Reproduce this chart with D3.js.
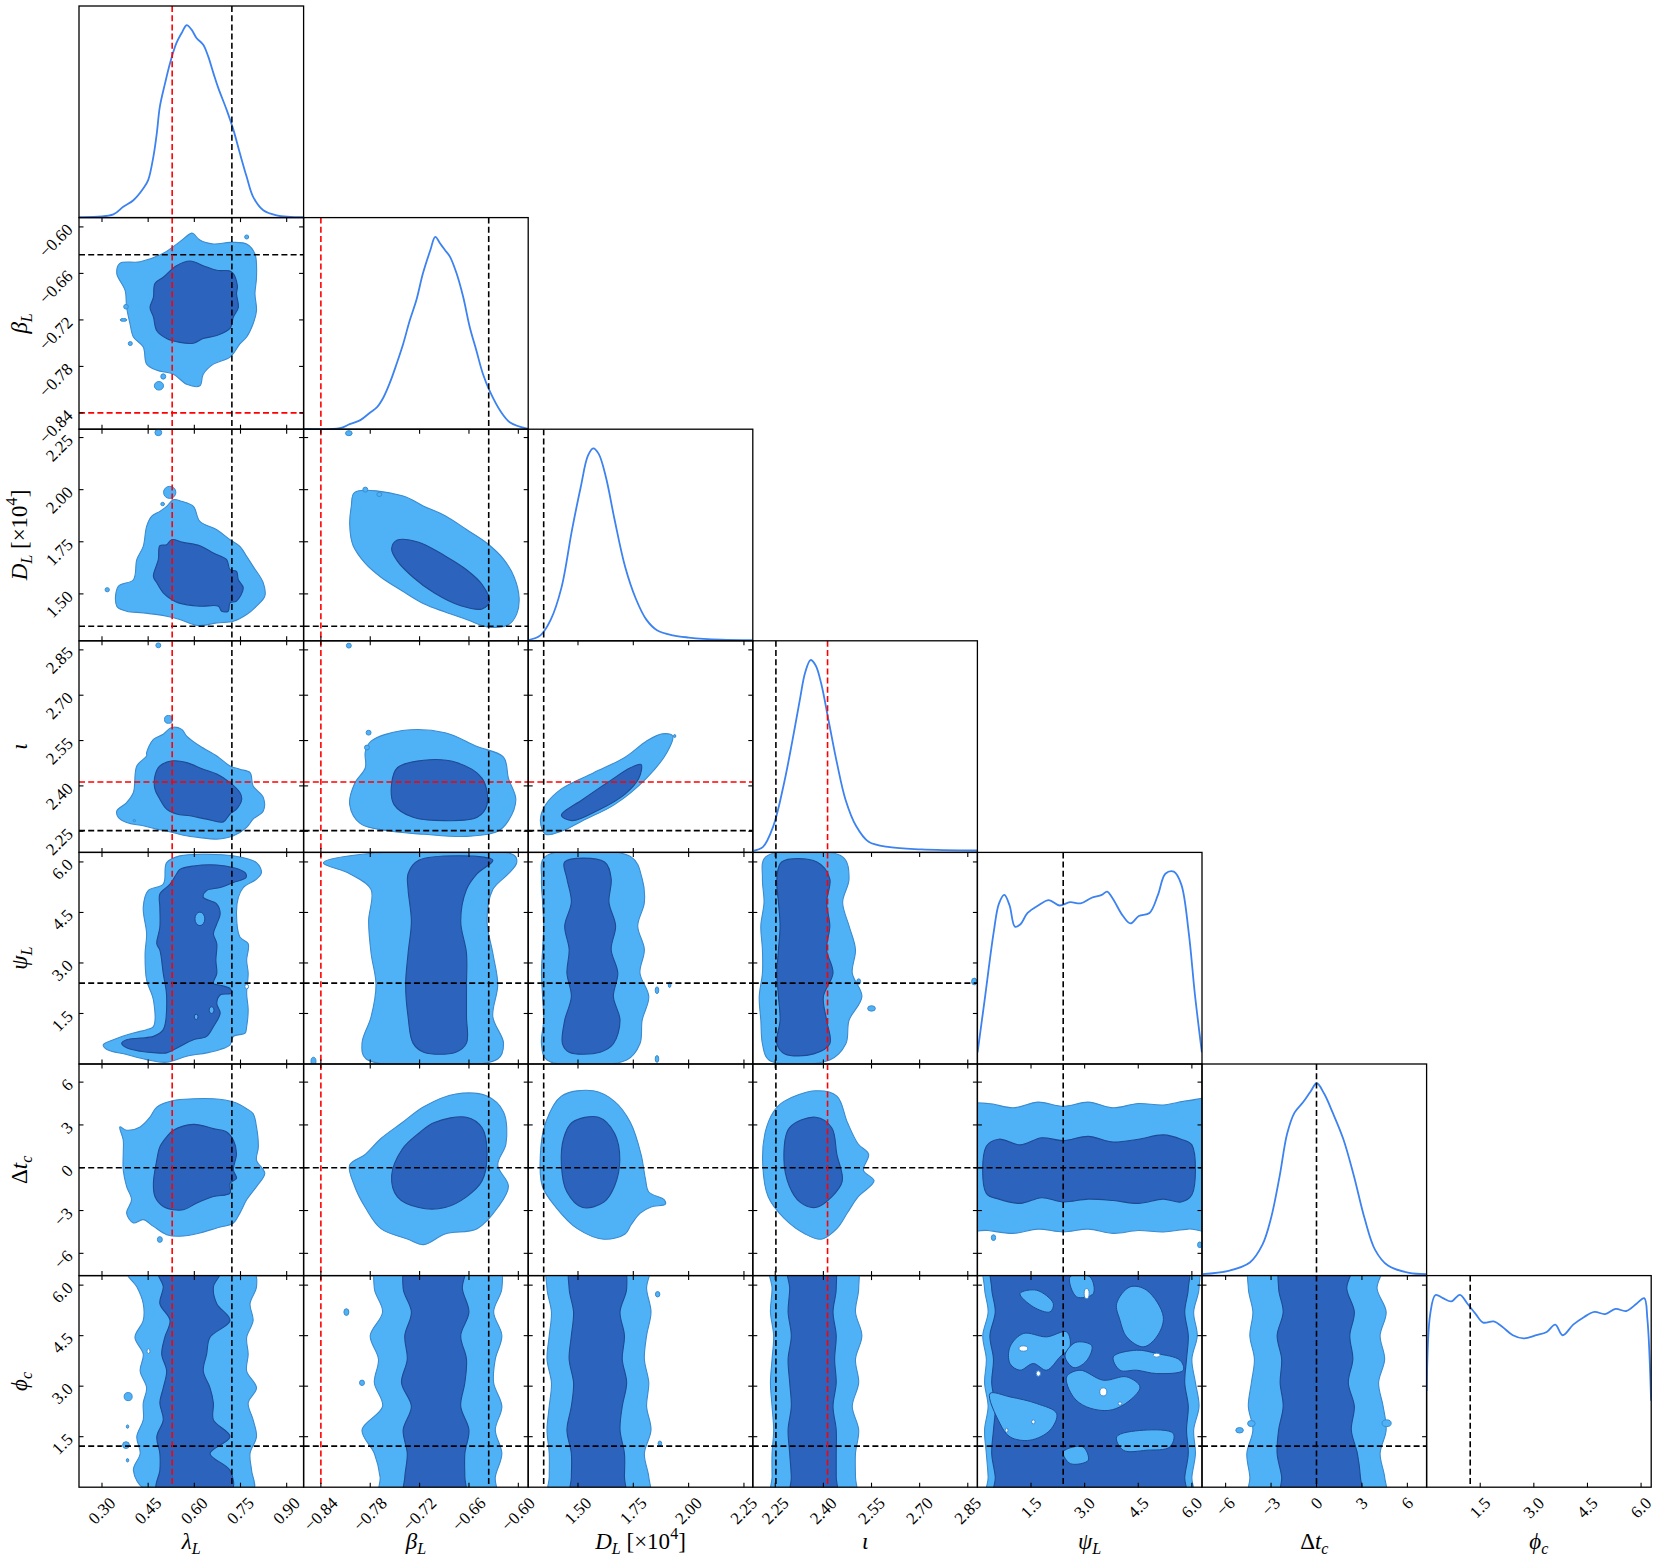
<!DOCTYPE html>
<html>
<head>
<meta charset="utf-8">
<script src="https://cdn.jsdelivr.net/npm/d3@7"></script>
<style>
  body { margin: 0; background: #fff; }
  svg { display: block; }
</style>
</head>
<body>
<script>
// ---- parameters, ranges, ticks ----
const ranges = [
  [0.2253, 0.955], [-0.861, -0.588], [1.275, 2.29], [2.18, 2.88],
  [0, 6.2832], [-7.56, 7.27], [0, 6.2832]
];
const tickValues = [
  [0.30, 0.45, 0.60, 0.75, 0.90], [-0.84, -0.78, -0.72, -0.66, -0.60],
  [1.50, 1.75, 2.00, 2.25], [2.25, 2.40, 2.55, 2.70, 2.85],
  [1.5, 3.0, 4.5, 6.0], [-6, -3, 0, 3, 6], [1.5, 3.0, 4.5, 6.0]
];
const tickLabels = [
  ["0.30", "0.45", "0.60", "0.75", "0.90"], ["−0.84", "−0.78", "−0.72", "−0.66", "−0.60"],
  ["1.50", "1.75", "2.00", "2.25"], ["2.25", "2.40", "2.55", "2.70", "2.85"],
  ["1.5", "3.0", "4.5", "6.0"], ["−6", "−3", "0", "3", "6"], ["1.5", "3.0", "4.5", "6.0"]
];
const axisLabels = [
  [["λ", "i"], ["L", "isub"]],
  [["β", "i"], ["L", "isub"]],
  [["D", "i"], ["L", "isub"], [" [×10", ""], ["4", "sup"], ["]", ""]],
  [["ι", "i"]],
  [["ψ", "i"], ["L", "isub"]],
  [["Δ", ""], ["t", "i"], ["c", "isub"]],
  [["ϕ", "i"], ["c", "isub"]]
];
const truthBlack = [0.722, -0.636, 1.345, 2.252, 2.40, 0.0, 1.22];
const truthRed = [0.528, -0.840, null, 2.413, null, null, null];

// ---- 1D marginals (x, relative density) ----
const kdeLambda = [[0.224,0.003],[0.337,0.017],[0.369,0.056],[0.402,0.090],[0.434,0.151],[0.450,0.195],[0.467,0.317],[0.478,0.438],[0.488,0.577],[0.505,0.699],[0.521,0.803],[0.542,0.908],[0.559,0.960],[0.575,1.0],[0.591,0.977],[0.607,0.934],[0.629,0.899],[0.645,0.838],[0.662,0.751],[0.678,0.673],[0.705,0.560],[0.727,0.456],[0.748,0.334],[0.770,0.212],[0.791,0.108],[0.824,0.038],[0.867,0.012],[0.955,0.002]];
const kdeBeta = [[-0.861,0.002],[-0.817,0.005],[-0.805,0.026],[-0.792,0.047],[-0.780,0.087],[-0.772,0.113],[-0.764,0.165],[-0.756,0.243],[-0.748,0.339],[-0.740,0.443],[-0.732,0.565],[-0.724,0.670],[-0.716,0.809],[-0.707,0.930],[-0.701,1.0],[-0.695,0.965],[-0.689,0.930],[-0.683,0.896],[-0.675,0.809],[-0.667,0.687],[-0.659,0.530],[-0.651,0.409],[-0.643,0.287],[-0.634,0.191],[-0.622,0.096],[-0.610,0.035],[-0.588,0.002]];
const kdeDL = [[1.276,0.004],[1.330,0.028],[1.377,0.110],[1.425,0.275],[1.473,0.577],[1.512,0.797],[1.545,0.962],[1.569,1.0],[1.593,0.973],[1.626,0.852],[1.665,0.632],[1.713,0.385],[1.761,0.220],[1.809,0.110],[1.857,0.055],[1.929,0.028],[2.001,0.017],[2.145,0.006],[2.29,0.003]];
const kdeIota = [[2.181,0.008],[2.211,0.027],[2.244,0.137],[2.277,0.357],[2.303,0.577],[2.327,0.797],[2.343,0.934],[2.360,1.0],[2.376,0.972],[2.393,0.879],[2.416,0.687],[2.442,0.467],[2.469,0.274],[2.502,0.137],[2.541,0.055],[2.607,0.027],[2.706,0.016],[2.879,0.010]];
const kdePsi = [[0.005,0.060],[0.219,0.356],[0.456,0.686],[0.605,0.835],[0.753,0.879],[0.901,0.824],[1.049,0.714],[1.197,0.725],[1.405,0.785],[1.701,0.824],[1.998,0.852],[2.294,0.824],[2.591,0.841],[2.887,0.835],[3.183,0.863],[3.480,0.879],[3.628,0.896],[3.776,0.863],[4.073,0.769],[4.280,0.731],[4.517,0.769],[4.814,0.785],[5.051,0.879],[5.258,0.989],[5.495,1.0],[5.703,0.934],[5.910,0.686],[6.088,0.356],[6.28,0.060]];
const kdeDt = [[-7.54,0.008],[-5.80,0.025],[-4.40,0.068],[-3.56,0.162],[-3.00,0.299],[-2.43,0.518],[-1.94,0.737],[-1.45,0.847],[-0.89,0.901],[-0.40,0.956],[0.02,1.0],[0.51,0.945],[1.07,0.847],[1.77,0.710],[2.47,0.518],[3.17,0.299],[3.87,0.134],[4.72,0.052],[6.12,0.014],[7.26,0.008]];
const kdePhi = [[0.004,0.500],[0.101,0.900],[0.249,0.999],[0.456,0.983],[0.694,0.966],[0.931,1.0],[1.138,0.955],[1.375,0.900],[1.583,0.856],[1.879,0.862],[2.116,0.834],[2.413,0.790],[2.709,0.774],[3.065,0.790],[3.361,0.807],[3.598,0.845],[3.806,0.790],[4.102,0.845],[4.398,0.884],[4.695,0.911],[4.991,0.900],[5.288,0.927],[5.584,0.916],[5.881,0.955],[6.088,0.983],[6.177,0.873],[6.280,0.450]];
const kdes = [kdeLambda, kdeBeta, kdeDL, kdeIota, kdePsi, kdeDt, kdePhi];

// ---- 2D credible regions, in data units: outer (light) and inner (dark) ----
const lamBeta = {
  outer: [[[0.591,-0.608],[0.553,-0.619],[0.499,-0.634],[0.424,-0.645],[0.358,-0.647],[0.348,-0.660],[0.375,-0.682],[0.380,-0.704],[0.391,-0.725],[0.402,-0.742],[0.434,-0.755],[0.445,-0.777],[0.478,-0.785],[0.532,-0.790],[0.575,-0.803],[0.618,-0.805],[0.629,-0.790],[0.662,-0.777],[0.716,-0.768],[0.748,-0.751],[0.770,-0.742],[0.791,-0.725],[0.802,-0.708],[0.797,-0.686],[0.802,-0.665],[0.797,-0.635],[0.770,-0.622],[0.716,-0.620],[0.662,-0.622],[0.618,-0.617],[0.598,-0.609]]],
  inner: [[[0.586,-0.644],[0.542,-0.650],[0.499,-0.665],[0.472,-0.673],[0.467,-0.691],[0.456,-0.704],[0.467,-0.716],[0.478,-0.734],[0.510,-0.744],[0.553,-0.749],[0.597,-0.750],[0.629,-0.744],[0.673,-0.740],[0.716,-0.731],[0.727,-0.716],[0.743,-0.704],[0.737,-0.686],[0.740,-0.676],[0.721,-0.658],[0.673,-0.656],[0.629,-0.650]]],
  islands: [[0.770,-0.613,0.0065,0.0026],[0.378,-0.703,0.0075,0.003],[0.370,-0.720,0.011,0.0018],[0.392,-0.7505,0.0065,0.0026],[0.499,-0.793,0.008,0.0034],[0.485,-0.805,0.015,0.0055]]
};
const lamDL = {
  outer: [[[0.532,1.952],[0.559,1.944],[0.597,1.920],[0.618,1.848],[0.673,1.808],[0.716,1.760],[0.748,1.728],[0.770,1.680],[0.791,1.632],[0.824,1.553],[0.829,1.489],[0.802,1.441],[0.770,1.401],[0.727,1.369],[0.673,1.361],[0.613,1.348],[0.553,1.377],[0.510,1.393],[0.434,1.409],[0.380,1.417],[0.348,1.441],[0.353,1.536],[0.402,1.568],[0.413,1.664],[0.434,1.728],[0.445,1.824],[0.461,1.872],[0.488,1.896],[0.510,1.920]]],
  inner: [[[0.526,1.760],[0.564,1.747],[0.618,1.731],[0.662,1.696],[0.705,1.664],[0.716,1.616],[0.737,1.608],[0.743,1.568],[0.759,1.529],[0.737,1.465],[0.716,1.457],[0.710,1.417],[0.689,1.417],[0.678,1.441],[0.618,1.441],[0.548,1.457],[0.526,1.473],[0.499,1.505],[0.478,1.553],[0.467,1.584],[0.483,1.664],[0.488,1.731],[0.510,1.736]]],
  islands: [[0.520,1.987,0.02,0.029],[0.483,2.274,0.011,0.015],[0.317,1.52,0.007,0.01],[0.497,1.931,0.006,0.008]]
};
const lamIota = {
  outer: [[[0.526,2.593],[0.559,2.587],[0.575,2.565],[0.618,2.532],[0.673,2.499],[0.716,2.466],[0.748,2.455],[0.781,2.444],[0.791,2.400],[0.824,2.362],[0.824,2.317],[0.791,2.290],[0.770,2.263],[0.727,2.235],[0.673,2.224],[0.618,2.229],[0.564,2.237],[0.510,2.251],[0.478,2.257],[0.434,2.268],[0.380,2.279],[0.353,2.296],[0.348,2.317],[0.380,2.345],[0.402,2.378],[0.413,2.466],[0.445,2.499],[0.445,2.510],[0.467,2.554],[0.499,2.571]]],
  inner: [[[0.532,2.483],[0.575,2.477],[0.629,2.455],[0.673,2.439],[0.716,2.411],[0.748,2.378],[0.754,2.356],[0.737,2.323],[0.716,2.307],[0.694,2.281],[0.640,2.290],[0.586,2.301],[0.542,2.307],[0.510,2.323],[0.488,2.356],[0.472,2.389],[0.472,2.433],[0.488,2.466]]],
  islands: [[0.516,2.620,0.013,0.013],[0.483,2.865,0.008,0.008],[0.405,2.285,0.004,0.004]]
};
const lamPsi = {
  outer: [[[0.510,5.98],[0.553,6.18],[0.640,6.23],[0.727,6.18],[0.802,5.98],[0.818,5.68],[0.802,5.49],[0.759,5.24],[0.743,4.95],[0.737,4.46],[0.748,3.77],[0.775,3.57],[0.770,3.08],[0.775,2.69],[0.770,2.10],[0.775,1.61],[0.770,1.11],[0.765,0.92],[0.727,0.82],[0.716,0.57],[0.684,0.43],[0.640,0.33],[0.575,0.23],[0.510,0.05],[0.445,0.13],[0.380,0.28],[0.316,0.43],[0.304,0.57],[0.337,0.72],[0.402,0.92],[0.445,1.02],[0.467,1.11],[0.467,1.90],[0.445,2.49],[0.440,3.28],[0.445,3.87],[0.434,4.65],[0.450,5.15],[0.499,5.34]]],
  inner: [[[0.553,5.78],[0.597,5.88],[0.673,5.91],[0.727,5.83],[0.765,5.68],[0.768,5.54],[0.727,5.39],[0.684,5.24],[0.640,5.15],[0.629,4.95],[0.673,4.75],[0.684,4.46],[0.673,4.16],[0.662,3.87],[0.673,3.57],[0.670,3.08],[0.673,2.69],[0.662,2.39],[0.684,2.34],[0.716,2.24],[0.721,2.10],[0.684,2.05],[0.673,1.80],[0.684,1.51],[0.662,1.11],[0.640,0.82],[0.597,0.72],[0.553,0.52],[0.510,0.33],[0.478,0.33],[0.424,0.38],[0.380,0.48],[0.364,0.62],[0.380,0.72],[0.424,0.77],[0.467,0.82],[0.499,1.02],[0.510,2.00],[0.499,2.69],[0.488,3.38],[0.478,3.57],[0.488,4.06],[0.488,4.65],[0.488,5.05],[0.521,5.34],[0.542,5.64]]],
  holes: [[0.618,4.31,0.016,0.2],[0.656,1.60,0.008,0.1],[0.606,1.40,0.006,0.08]],
  white: [[0.770,2.30,0.006,0.07]]
};
const lamDt = {
  outer: [[[0.532,4.71],[0.597,4.83],[0.662,4.83],[0.727,4.60],[0.770,4.14],[0.791,3.79],[0.802,2.86],[0.808,1.46],[0.802,0.54],[0.829,-0.39],[0.802,-1.32],[0.770,-2.25],[0.748,-3.18],[0.727,-3.87],[0.673,-4.22],[0.618,-4.57],[0.553,-4.80],[0.510,-4.69],[0.467,-4.11],[0.434,-3.64],[0.402,-3.87],[0.380,-3.18],[0.396,-2.25],[0.380,-1.32],[0.369,-0.16],[0.369,1.0],[0.369,1.93],[0.358,2.86],[0.380,2.63],[0.424,2.86],[0.456,3.55],[0.478,4.25]]],
  inner: [[[0.532,2.63],[0.597,3.04],[0.662,2.74],[0.705,2.51],[0.727,1.93],[0.737,1.0],[0.727,-0.16],[0.737,-0.74],[0.716,-1.09],[0.716,-1.78],[0.662,-2.02],[0.608,-2.48],[0.564,-2.95],[0.532,-2.95],[0.499,-2.72],[0.472,-2.02],[0.467,-1.09],[0.478,0.54],[0.488,1.46],[0.510,2.16]]],
  islands: [[0.488,-5.03,0.008,0.2]]
};
const lamPhi = {
  levels: [6.4, 5.95, 5.45, 4.95, 4.45, 3.95, 3.45, 2.95, 2.5, 2.0, 1.5, 1.0, 0.5, -0.1],
  outerL: [0.380, 0.413, 0.434, 0.434, 0.407, 0.434, 0.424, 0.445, 0.434, 0.434, 0.413, 0.424, 0.402, 0.445],
  outerR: [0.791, 0.802, 0.781, 0.791, 0.770, 0.775, 0.770, 0.802, 0.775, 0.791, 0.802, 0.781, 0.786, 0.791],
  innerL: [0.483, 0.499, 0.488, 0.521, 0.504, 0.494, 0.510, 0.499, 0.488, 0.499, 0.478, 0.488, 0.488, 0.478],
  innerR: [0.684, 0.662, 0.673, 0.716, 0.651, 0.640, 0.629, 0.651, 0.662, 0.662, 0.716, 0.651, 0.716, 0.721],
  islands: [[0.385,2.69,0.013,0.12],[0.383,1.80,0.004,0.05],[0.378,1.25,0.011,0.1],[0.383,0.80,0.004,0.05]],
  white: [[0.451,4.04,0.005,0.07]]
};
const betaDL = {
  outer: [[[-0.799,1.987],[-0.741,1.971],[-0.715,1.921],[-0.689,1.875],[-0.663,1.809],[-0.638,1.743],[-0.618,1.667],[-0.605,1.580],[-0.599,1.479],[-0.602,1.403],[-0.612,1.352],[-0.638,1.342],[-0.663,1.377],[-0.689,1.413],[-0.715,1.453],[-0.741,1.514],[-0.767,1.580],[-0.786,1.646],[-0.801,1.733],[-0.805,1.834],[-0.803,1.921]]],
  inner: [[[-0.747,1.758],[-0.721,1.748],[-0.689,1.682],[-0.663,1.616],[-0.644,1.545],[-0.635,1.464],[-0.644,1.428],[-0.670,1.443],[-0.702,1.504],[-0.728,1.580],[-0.747,1.657],[-0.754,1.718]]],
  islands: [[-0.786,2.0,0.003,0.012],[-0.769,1.977,0.003,0.01],[-0.806,2.271,0.004,0.012]]
};
const betaIota = {
  outer: [[[-0.779,2.548],[-0.741,2.583],[-0.689,2.576],[-0.650,2.530],[-0.618,2.495],[-0.612,2.425],[-0.603,2.355],[-0.612,2.285],[-0.625,2.250],[-0.663,2.233],[-0.715,2.240],[-0.754,2.250],[-0.792,2.275],[-0.805,2.338],[-0.799,2.408],[-0.786,2.460],[-0.786,2.513]]],
  inner: [[[-0.747,2.460],[-0.715,2.485],[-0.676,2.478],[-0.644,2.425],[-0.638,2.338],[-0.650,2.296],[-0.689,2.285],[-0.728,2.296],[-0.751,2.338],[-0.754,2.408]]],
  islands: [[-0.806,2.864,0.003,0.008],[-0.782,2.576,0.003,0.008],[-0.784,2.527,0.003,0.008]]
};
const betaPsi = {
  levels: [6.2, 5.97, 5.65, 5.18, 4.24, 3.29, 2.35, 1.40, 0.62, 0.15],
  outerL: [-0.80, -0.837, -0.805, -0.779, -0.782, -0.779, -0.773, -0.779, -0.790, -0.785],
  outerR: [-0.605, -0.602, -0.612, -0.631, -0.638, -0.631, -0.625, -0.631, -0.618, -0.625],
  innerLevels: [6.05, 5.65, 5.18, 4.24, 3.29, 2.35, 1.40, 0.62, 0.35],
  innerL: [-0.721, -0.734, -0.734, -0.730, -0.734, -0.737, -0.734, -0.728, -0.715],
  innerR: [-0.631, -0.650, -0.663, -0.670, -0.663, -0.663, -0.663, -0.663, -0.676],
  islands: [[-0.849,0.08,0.003,0.12]]
};
const betaDt = {
  outer: [[[-0.715,4.28],[-0.676,5.17],[-0.638,5.02],[-0.618,3.91],[-0.615,1.68],[-0.625,0.19],[-0.612,-1.30],[-0.625,-2.79],[-0.650,-4.27],[-0.689,-4.64],[-0.715,-5.39],[-0.734,-5.01],[-0.767,-4.27],[-0.786,-2.79],[-0.799,-1.30],[-0.805,0.19],[-0.786,0.94],[-0.767,2.05],[-0.741,3.17]]],
  inner: [[[-0.702,3.17],[-0.663,3.54],[-0.644,2.80],[-0.638,0.94],[-0.644,-0.92],[-0.663,-2.04],[-0.689,-2.79],[-0.721,-2.79],[-0.747,-2.04],[-0.754,-0.55],[-0.741,1.31],[-0.721,2.42]]]
};
const betaPhi = {
  levels: [6.6, 5.9, 5.2, 4.5, 3.8, 3.1, 2.4, 1.7, 1.0, 0.3, -0.3],
  outerL: [-0.77, -0.775, -0.765, -0.78, -0.77, -0.775, -0.765, -0.79, -0.775, -0.768, -0.768],
  outerR: [-0.625, -0.62, -0.63, -0.62, -0.628, -0.63, -0.62, -0.628, -0.62, -0.628, -0.628],
  innerL: [-0.735, -0.74, -0.73, -0.738, -0.735, -0.742, -0.73, -0.74, -0.735, -0.738, -0.738],
  innerR: [-0.665, -0.668, -0.66, -0.67, -0.663, -0.665, -0.67, -0.66, -0.665, -0.665, -0.665],
  islands: [[-0.809,5.20,0.003,0.1],[-0.790,3.10,0.003,0.08]]
};
const dlIota = {
  outer: [[[1.354,2.338],[1.425,2.390],[1.569,2.443],[1.713,2.495],[1.809,2.548],[1.880,2.572],[1.928,2.565],[1.904,2.513],[1.809,2.425],[1.665,2.338],[1.521,2.285],[1.425,2.250],[1.354,2.240],[1.330,2.285]]],
  inner: [[[1.425,2.303],[1.521,2.355],[1.641,2.415],[1.737,2.460],[1.785,2.471],[1.775,2.425],[1.713,2.373],[1.593,2.320],[1.473,2.285]]],
  islands: [[1.937,2.565,0.005,0.005]]
};
const dlPsi = {
  levels: [6.15, 5.5, 4.8, 4.1, 3.4, 2.7, 2.0, 1.3, 0.6, 0.12],
  outerL: [1.35, 1.335, 1.34, 1.345, 1.34, 1.335, 1.34, 1.345, 1.335, 1.36],
  outerR: [1.74, 1.79, 1.80, 1.77, 1.80, 1.78, 1.82, 1.79, 1.78, 1.72],
  innerLevels: [6.0, 5.5, 4.8, 4.1, 3.4, 2.7, 2.0, 1.3, 0.6, 0.35],
  innerL: [1.44, 1.45, 1.47, 1.44, 1.46, 1.45, 1.47, 1.44, 1.43, 1.46],
  innerR: [1.62, 1.65, 1.64, 1.67, 1.65, 1.68, 1.66, 1.69, 1.66, 1.60],
  islands: [[1.857,2.19,0.008,0.1],[1.914,2.35,0.006,0.08],[1.857,0.15,0.008,0.1]]
};
const dlDt = {
  outer: [[[1.425,5.02],[1.569,5.39],[1.665,4.65],[1.737,3.17],[1.785,0.94],[1.805,-0.8],[1.82,-1.7],[1.89,-2.25],[1.895,-2.55],[1.83,-2.75],[1.78,-3.2],[1.74,-4.0],[1.713,-4.64],[1.617,-5.01],[1.497,-4.27],[1.401,-2.79],[1.339,-1.30],[1.330,0.94],[1.354,3.17]]],
  inner: [[[1.473,3.17],[1.593,3.54],[1.665,2.42],[1.689,0.57],[1.665,-1.30],[1.617,-2.41],[1.521,-2.79],[1.449,-1.67],[1.425,0.19],[1.435,2.05]]]
};
const dlPhi = {
  levels: [6.6, 5.9, 5.2, 4.5, 3.8, 3.1, 2.4, 1.7, 1.0, 0.3, -0.3],
  outerL: [1.37, 1.36, 1.38, 1.37, 1.36, 1.38, 1.37, 1.36, 1.37, 1.37, 1.37],
  outerR: [1.82, 1.81, 1.83, 1.81, 1.80, 1.82, 1.81, 1.83, 1.80, 1.82, 1.82],
  innerL: [1.47, 1.46, 1.48, 1.47, 1.46, 1.48, 1.47, 1.45, 1.47, 1.47, 1.47],
  innerR: [1.70, 1.72, 1.69, 1.71, 1.70, 1.72, 1.70, 1.69, 1.71, 1.71, 1.71],
  islands: [[1.86,5.73,0.01,0.08],[1.87,1.30,0.008,0.07]]
};
const iotaPsi = {
  levels: [6.15, 5.5, 4.8, 4.1, 3.4, 2.7, 2.0, 1.3, 0.6, 0.12],
  outerL: [2.22, 2.21, 2.215, 2.205, 2.21, 2.21, 2.20, 2.205, 2.21, 2.23],
  outerR: [2.46, 2.48, 2.46, 2.48, 2.50, 2.49, 2.52, 2.48, 2.47, 2.42],
  innerLevels: [6.0, 5.5, 4.8, 4.1, 3.4, 2.7, 2.0, 1.3, 0.6, 0.3],
  innerL: [2.27, 2.255, 2.26, 2.265, 2.26, 2.255, 2.26, 2.265, 2.255, 2.28],
  innerR: [2.38, 2.42, 2.41, 2.42, 2.41, 2.43, 2.40, 2.41, 2.42, 2.37],
  islands: [[2.51,2.45,0.006,0.08],[2.55,1.65,0.012,0.08],[2.87,2.45,0.008,0.1]]
};
const iotaDt = {
  outer: [[[2.277,4.65],[2.376,5.39],[2.442,5.02],[2.475,3.17],[2.508,1.68],[2.541,0.94],[2.525,-0.18],[2.558,-0.92],[2.508,-2.04],[2.475,-3.16],[2.442,-4.27],[2.393,-5.01],[2.343,-4.64],[2.277,-3.53],[2.228,-2.04],[2.211,0.19],[2.218,2.42],[2.244,3.91]]],
  inner: [[[2.294,2.80],[2.376,3.54],[2.426,2.80],[2.442,0.94],[2.459,-0.92],[2.426,-2.04],[2.376,-2.79],[2.327,-2.41],[2.294,-1.30],[2.277,0.57]]]
};
const iotaPhi = {
  levels: [6.6, 5.9, 5.2, 4.5, 3.8, 3.1, 2.4, 1.7, 1.0, 0.3, -0.3],
  outerL: [2.235, 2.24, 2.235, 2.245, 2.24, 2.235, 2.24, 2.245, 2.24, 2.24, 2.24],
  outerR: [2.50, 2.51, 2.50, 2.52, 2.50, 2.51, 2.49, 2.51, 2.50, 2.50, 2.50],
  innerL: [2.29, 2.295, 2.29, 2.30, 2.29, 2.295, 2.30, 2.29, 2.295, 2.30, 2.30],
  innerR: [2.43, 2.44, 2.43, 2.44, 2.435, 2.44, 2.43, 2.44, 2.44, 2.44, 2.44]
};
const psiDt = {
  hlevels: [-0.3, 0.3, 1.0, 1.7, 2.4, 3.1, 3.8, 4.5, 5.2, 5.9, 6.6],
  outerT: [4.3, 4.5, 4.2, 4.6, 4.3, 4.6, 4.2, 4.5, 4.4, 4.7, 4.7],
  outerB: [-4.2, -4.4, -4.6, -4.3, -4.5, -4.3, -4.6, -4.4, -4.5, -4.3, -4.3],
  innerLevels: [0.25, 0.6, 1.2, 1.8, 2.4, 3.1, 3.8, 4.5, 5.2, 5.7, 6.0],
  innerT: [1.5, 2.0, 1.6, 2.1, 1.9, 2.2, 1.8, 2.0, 2.3, 2.0, 1.6],
  innerB: [-1.8, -2.2, -2.5, -2.1, -2.4, -2.2, -2.3, -2.5, -2.2, -2.4, -1.9],
  islands: [[0.45,-4.9,0.06,0.2],[6.22,-5.4,0.06,0.2]]
};
const psiPhi = {
  levels: [6.6, 5.9, 5.2, 4.5, 3.8, 3.1, 2.4, 1.7, 1.0, 0.3, -0.3],
  outerL: [0.25, 0.2, 0.3, 0.15, 0.25, 0.2, 0.3, 0.2, 0.25, 0.3, 0.3],
  outerR: [6.1, 6.2, 6.05, 6.15, 6.0, 6.1, 6.2, 6.05, 6.1, 6.0, 6.0],
  innerL: [0.45, 0.4, 0.5, 0.35, 0.45, 0.4, 0.5, 0.45, 0.4, 0.5, 0.5],
  innerR: [5.85, 5.9, 5.8, 5.9, 5.85, 5.8, 5.9, 5.85, 5.9, 5.8, 5.8],
  lightPolys: [
    [[0.912,4.167],[1.285,4.563],[1.937,4.464],[2.497,4.612],[2.590,4.167],[2.310,3.870],[1.937,3.474],[1.565,3.672],[1.191,3.474],[0.912,3.672]],
    [[2.497,3.276],[2.870,3.474],[3.522,3.177],[4.175,3.276],[4.548,2.979],[4.268,2.583],[3.709,2.286],[3.056,2.385],[2.683,2.682]],
    [[3.802,3.870],[4.455,4.068],[5.014,3.969],[5.667,3.771],[5.760,3.474],[5.014,3.375],[4.455,3.474],[3.989,3.474]],
    [[0.352,2.781],[0.912,2.682],[1.658,2.484],[2.217,2.187],[2.031,1.692],[1.471,1.395],[0.912,1.494],[0.632,1.890]],
    [[3.896,5.453],[4.268,5.948],[4.735,5.849],[5.201,5.058],[5.014,4.464],[4.641,4.167],[4.175,4.464],[3.989,4.959]],
    [[1.191,5.750],[1.658,5.849],[2.124,5.453],[2.031,5.206],[1.565,5.354]],
    [[2.590,6.245],[3.149,6.245],[3.243,5.750],[2.776,5.651]],
    [[3.896,1.494],[4.641,1.692],[5.481,1.593],[5.387,1.197],[4.735,1.098],[4.082,1.098]],
    [[2.45,3.90],[2.75,4.30],[3.20,4.20],[3.05,3.75],[2.70,3.55]],
    [[2.40,1.05],[2.95,1.20],[3.10,0.80],[2.60,0.70]]
  ],
  white: [[1.285,4.118,0.12,0.08],[3.522,2.830,0.1,0.12],[5.014,3.920,0.1,0.06],[3.056,5.750,0.07,0.15],[1.705,3.375,0.06,0.08],[1.565,1.940,0.05,0.06],[0.818,1.692,0.04,0.06],[3.989,2.484,0.05,0.05]]
};
const dtPhi = {
  levels: [6.6, 5.9, 5.2, 4.5, 3.8, 3.1, 2.4, 1.7, 1.0, 0.3, -0.3],
  outerL: [-4.3, -4.5, -4.2, -4.4, -4.1, -4.3, -4.5, -4.2, -4.6, -4.4, -4.4],
  outerR: [4.3, 4.0, 4.6, 4.2, 4.5, 4.1, 4.4, 4.6, 4.2, 4.5, 4.5],
  innerL: [-2.3, -2.5, -2.2, -2.6, -2.3, -2.4, -2.2, -2.5, -2.6, -2.3, -2.3],
  innerR: [2.3, 2.0, 2.5, 2.2, 2.4, 2.1, 2.5, 2.3, 2.7, 2.9, 2.9],
  islands: [[-5.08,1.69,0.25,0.08],[-4.30,1.89,0.25,0.09],[4.63,1.90,0.3,0.1]]
};
const panels2d = {
  "1,0": lamBeta, "2,0": lamDL, "3,0": lamIota, "4,0": lamPsi, "5,0": lamDt, "6,0": lamPhi,
  "2,1": betaDL, "3,1": betaIota, "4,1": betaPsi, "5,1": betaDt, "6,1": betaPhi,
  "3,2": dlIota, "4,2": dlPsi, "5,2": dlDt, "6,2": dlPhi,
  "4,3": iotaPsi, "5,3": iotaDt, "6,3": iotaPhi,
  "5,4": psiDt, "6,4": psiPhi,
  "6,5": dtPhi
};

// ---- layout & style ----
const width = 1661, height = 1566;
const X0 = 79, Y0 = 6, PW = 224.6, PH = 211.6, N = 7;
const lightFill = "#4fb2f6", lightEdge = "#3b8bd0";
const darkFill = "#2c63bd", darkEdge = "#1e4a92";
const kdeColor = "#3c82f0";
const tickSize = 17, labelSize = 23;

const svg = d3.select("body").append("svg")
  .attr("width", width).attr("height", height)
  .attr("viewBox", [0, 0, width, height])
  .attr("font-family", "'Liberation Serif', 'DejaVu Serif', serif");

function mathText(sel, parts, size) {
  const t = sel.append("text").attr("font-size", size);
  let shift = 0;
  for (const [s, k] of parts) {
    const target = k.includes("sub") ? size * 0.22 : k.includes("sup") ? -size * 0.42 : 0;
    const ts = t.append("tspan").text(s).attr("dy", target - shift);
    shift = target;
    if (k.includes("sub") || k.includes("sup")) ts.attr("font-size", size * 0.7);
    if (k.includes("i")) ts.attr("font-style", "italic");
  }
  return t;
}

function vband(levels, L, R) {
  return levels.map((l, i) => [L[i], l]).concat(levels.map((l, i) => [R[i], l]).reverse());
}
function hband(levels, T, B) {
  return levels.map((l, i) => [l, T[i]]).concat(levels.map((l, i) => [l, B[i]]).reverse());
}

let clipId = 0;
for (let r = 0; r < N; r++) {
  for (let c = 0; c <= r; c++) {
    const g = svg.append("g").attr("transform", `translate(${X0 + c * PW},${Y0 + r * PH})`);
    const x = d3.scaleLinear().domain(ranges[c]).range([0, PW]);
    const id = `clip-${clipId++}`;
    g.append("clipPath").attr("id", id).append("rect").attr("width", PW).attr("height", PH);
    const body = g.append("g").attr("clip-path", `url(#${id})`);

    if (r === c) {
      const y = d3.scaleLinear().domain([0, 1.1]).range([PH, 0]);
      body.append("path")
        .datum(kdes[c])
        .attr("fill", "none").attr("stroke", kdeColor).attr("stroke-width", 1.8)
        .attr("d", d3.line().x(d => x(d[0])).y(d => y(d[1])).curve(d3.curveCatmullRom.alpha(0.5)));
    } else {
      const y = d3.scaleLinear().domain(ranges[r]).range([PH, 0]);
      const p = panels2d[`${r},${c}`];
      const line = d3.line().x(d => x(d[0])).y(d => y(d[1])).curve(d3.curveCatmullRomClosed.alpha(0.5));
      let outer = p.outer || [], inner = p.inner || [];
      if (p.levels) {
        outer = [vband(p.levels, p.outerL, p.outerR)];
        inner = [vband(p.innerLevels || p.levels, p.innerL, p.innerR)];
      }
      if (p.hlevels) {
        outer = [hband(p.hlevels, p.outerT, p.outerB)];
        inner = [hband(p.innerLevels, p.innerT, p.innerB)];
      }
      const blob = (sel, list, fill, stroke) => sel.selectAll(null).data(list || []).join("ellipse")
        .attr("cx", d => x(d[0])).attr("cy", d => y(d[1]))
        .attr("rx", d => Math.abs(x(d[0] + d[2]) - x(d[0])))
        .attr("ry", d => Math.abs(y(d[1] + d[3]) - y(d[1])))
        .attr("fill", fill).attr("stroke", stroke).attr("stroke-width", 1);

      body.selectAll(null).data(outer).join("path")
        .attr("d", line).attr("fill", lightFill).attr("stroke", lightEdge).attr("stroke-width", 1.1);
      blob(body, p.islands, lightFill, lightEdge);
      body.selectAll(null).data(inner).join("path")
        .attr("d", line).attr("fill", darkFill).attr("stroke", darkEdge).attr("stroke-width", 1.1);
      body.selectAll(null).data(p.lightPolys || []).join("path")
        .attr("d", line).attr("fill", lightFill).attr("stroke", darkEdge).attr("stroke-width", 1);
      blob(body, p.holes, lightFill, darkEdge);
      blob(body, p.white, "#fff", lightEdge);

      // horizontal reference lines for this row
      if (truthBlack[r] != null) body.append("line")
        .attr("x1", 0).attr("x2", PW).attr("y1", y(truthBlack[r])).attr("y2", y(truthBlack[r]))
        .attr("stroke", "#000").attr("stroke-width", 1.6).attr("stroke-dasharray", "6,3.2");
      if (truthRed[r] != null) body.append("line")
        .attr("x1", 0).attr("x2", PW).attr("y1", y(truthRed[r])).attr("y2", y(truthRed[r]))
        .attr("stroke", "#f00").attr("stroke-width", 1.6).attr("stroke-dasharray", "6,3.2");
    }

    // vertical reference lines for this column
    if (truthBlack[c] != null) body.append("line")
      .attr("x1", x(truthBlack[c])).attr("x2", x(truthBlack[c])).attr("y1", 0).attr("y2", PH)
      .attr("stroke", "#000").attr("stroke-width", 1.6).attr("stroke-dasharray", "6,3.2");
    if (truthRed[c] != null) body.append("line")
      .attr("x1", x(truthRed[c])).attr("x2", x(truthRed[c])).attr("y1", 0).attr("y2", PH)
      .attr("stroke", "#f00").attr("stroke-width", 1.6).attr("stroke-dasharray", "6,3.2");

    // frame
    g.append("rect").attr("width", PW).attr("height", PH)
      .attr("fill", "none").attr("stroke", "#000").attr("stroke-width", 1.3);

    // ticks (inward)
    const tk = g.append("g").attr("stroke", "#000").attr("stroke-width", 1.1);
    const TL = 4.5;
    if (r !== c) {
      const y = d3.scaleLinear().domain(ranges[r]).range([PH, 0]);
      tickValues[c].forEach(v => {
        tk.append("line").attr("x1", x(v)).attr("x2", x(v)).attr("y1", PH).attr("y2", PH - TL);
        tk.append("line").attr("x1", x(v)).attr("x2", x(v)).attr("y1", 0).attr("y2", TL);
      });
      tickValues[r].forEach(v => {
        tk.append("line").attr("y1", y(v)).attr("y2", y(v)).attr("x1", 0).attr("x2", TL);
        tk.append("line").attr("y1", y(v)).attr("y2", y(v)).attr("x1", PW).attr("x2", PW - TL);
      });
      if (c === 0) {
        tickValues[r].forEach((v, i) => {
          g.append("text").attr("font-size", tickSize)
            .attr("text-anchor", "end").attr("dominant-baseline", "central")
            .attr("transform", `translate(-9,${y(v)}) rotate(-45)`)
            .text(tickLabels[r][i]);
        });
      }
    } else if (r === N - 1) {
      tickValues[c].forEach(v => {
        tk.append("line").attr("x1", x(v)).attr("x2", x(v)).attr("y1", PH).attr("y2", PH - TL);
      });
    }
    if (r === N - 1) {
      tickValues[c].forEach((v, i) => {
        const t = g.append("text").attr("font-size", tickSize)
          .attr("text-anchor", "middle").attr("dominant-baseline", "central")
          .text(tickLabels[c][i]);
        const w = t.node().getComputedTextLength();
        const bb = (w + tickSize * 0.68) / Math.SQRT2;
        t.attr("transform", `translate(${x(v)},${PH + 9 + bb / 2}) rotate(-45)`);
      });
    }
  }
}

// axis labels
for (let c = 0; c < N; c++) {
  mathText(svg, axisLabels[c], labelSize)
    .attr("text-anchor", "middle")
    .attr("x", X0 + (c + 0.5) * PW).attr("y", 1549);
}
for (let r = 1; r < N; r++) {
  mathText(svg, axisLabels[r], labelSize)
    .attr("text-anchor", "middle")
    .attr("transform", `translate(27,${Y0 + (r + 0.5) * PH}) rotate(-90)`);
}
</script>
</body>
</html>
